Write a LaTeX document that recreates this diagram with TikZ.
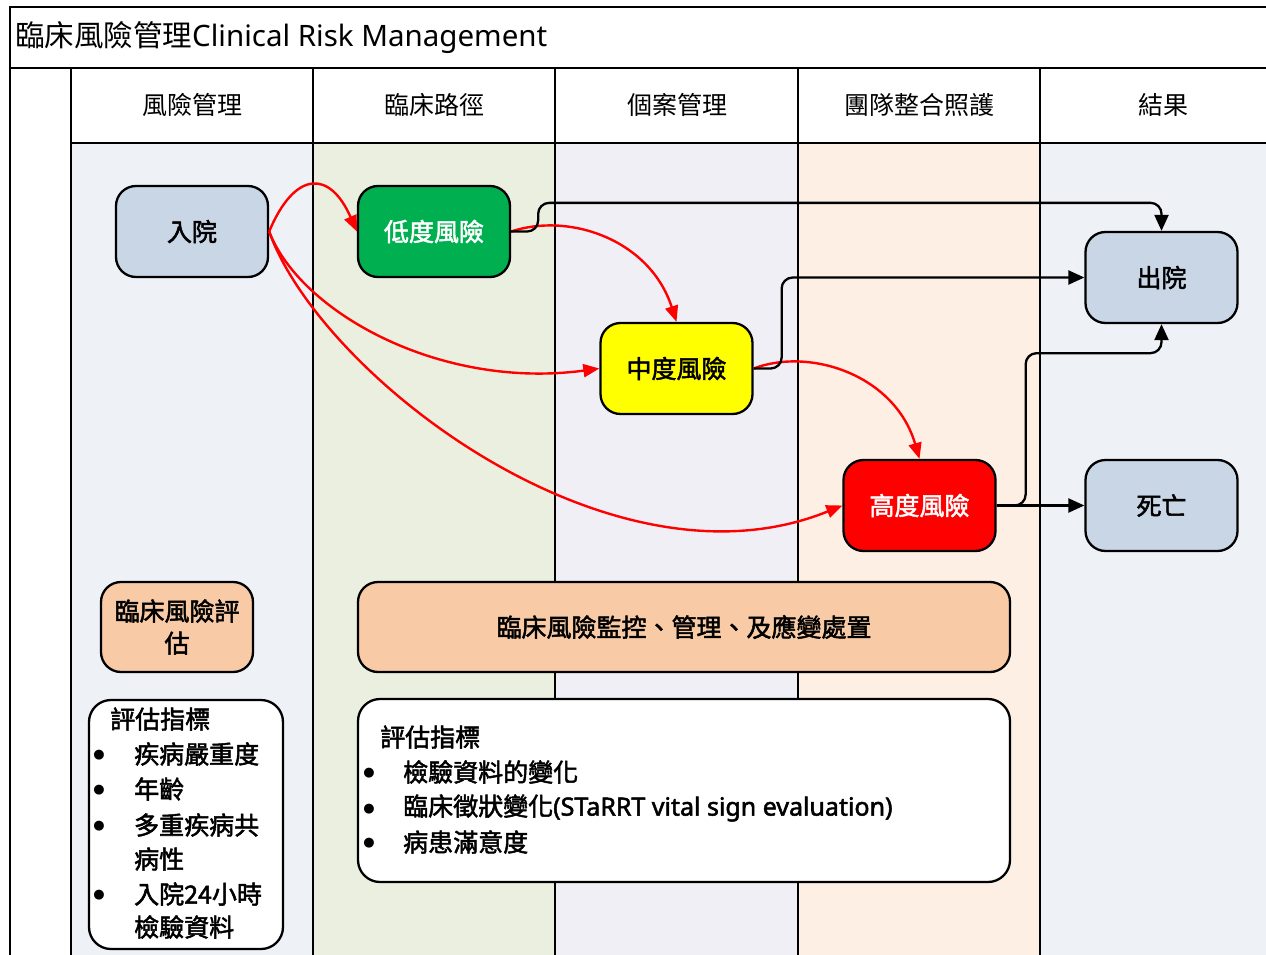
\documentclass[tikz,border=0pt]{standalone}
\usepackage{fontspec}
\setmainfont{Noto Sans CJK TC}
\newfontfamily\latinfont{Noto Sans}
\newfontfamily\bodyfont[FakeBold=2]{Noto Sans CJK TC}
\newfontfamily\bodylatin[FakeBold=2]{Noto Sans}
\newfontfamily\dotfont{DejaVu Sans}
\usetikzlibrary{arrows.meta,calc}

\definecolor{laneblue}{HTML}{EEF1F6}
\definecolor{lanegreen}{HTML}{EBEFDF}
\definecolor{lanelilac}{HTML}{F0EFF5}
\definecolor{lanepeach}{HTML}{FDEFE4}
\definecolor{stageblue}{HTML}{C9D6E6}
\definecolor{stagegreen}{HTML}{00B050}
\definecolor{stagepeach}{HTML}{F8CBA6}
\definecolor{stageyellow}{HTML}{FFFF00}

\tikzset{
  frame/.style={line width=2pt, black},
  hdr/.style={font=\fontsize{25}{30}\selectfont, inner sep=0pt},
  stagebox/.style={draw, line width=2.3pt, rounded corners=20pt,
    minimum width=152pt, minimum height=91pt, inner sep=0pt,
    font=\bodyfont\fontsize{25}{32}\selectfont},
  panel/.style={draw, line width=2.3pt, rounded corners=22pt, fill=white, inner sep=0pt},
  listline/.style={anchor=west, inner sep=0pt, font=\bodyfont\fontsize{25}{30}\selectfont},
  bulletdot/.style={inner sep=0pt, font=\dotfont\fontsize{13}{13}\selectfont},
  redarrow/.style={draw=red, line width=2.4pt, -{Triangle[length=16pt,width=13pt]}},
  blackarrow/.style={draw=black, line width=2.3pt, rounded corners=11pt,
    -{Triangle[length=16pt,width=14pt]}},
}

\begin{document}
\begin{tikzpicture}[x=1pt, y=-1pt]
\useasboundingbox (0,0) rectangle (1266,955);

% swimlane backgrounds
\fill[white] (0,0) rectangle (1266,955);
\fill[laneblue]  (71,143)   rectangle (313,960);
\fill[lanegreen] (313,143)  rectangle (555,960);
\fill[lanelilac] (555,143)  rectangle (798,960);
\fill[lanepeach] (798,143)  rectangle (1040,960);
\fill[laneblue]  (1040,143) rectangle (1270,960);

% frame and lane dividers
\draw[frame] (10,960) -- (10,7) -- (1270,7);
\draw[frame] (10,68) -- (1270,68);
\draw[frame] (71,143) -- (1270,143);
\foreach \x in {71,313,555,798,1040}
  \draw[frame] (\x,68) -- (\x,960);

% title and lane headers
\node[anchor=west, inner sep=0pt, font=\fontsize{29.5}{32}\selectfont] (title) at (15,38)
  {臨床風險管理{\latinfont Clinical Risk Management}};
\node[hdr] (h1) at (192,105)  {風險管理};
\node[hdr] (h2) at (434,105)  {臨床路徑};
\node[hdr] (h3) at (677,105)  {個案管理};
\node[hdr] (h4) at (919,105)  {團隊整合照護};
\node[hdr] (h5) at (1163,105) {結果};

% stages
\node[stagebox, fill=stageblue] (adm) at (192,231.5) {入院};
\node[stagebox, fill=stagegreen, text=white] (low) at (434,231.5) {低度風險};
\node[stagebox, fill=stageyellow] (mid) at (676.5,368.5) {中度風險};
\node[stagebox, fill=red, text=white] (high) at (919.5,505.5) {高度風險};
\node[stagebox, fill=stageblue] (out) at (1161.5,277.5) {出院};
\node[stagebox, fill=stageblue] (death) at (1161.5,505.5) {死亡};

\node[stagebox, fill=stagepeach, minimum height=90pt, align=center] (assess) at (177,627)
  {臨床風險評\\估};
\node[stagebox, fill=stagepeach, minimum width=652pt, minimum height=90pt] (monitor) at (684,627)
  {臨床風險監控、管理、及應變處置};

% indicator panels
\node[panel, minimum width=194pt, minimum height=249pt] (crit1) at (186,824.5) {};
\node[panel, minimum width=652pt, minimum height=183pt] (crit2) at (684,790.5) {};

\node[listline] (c1t) at (110,719) {評估指標};
\node[bulletdot] (c1b1) at (99,755) {●};
\node[listline] (c1a) at (134,754) {疾病嚴重度};
\node[bulletdot] (c1b2) at (99,790) {●};
\node[listline] (c1b) at (134,789) {年齡};
\node[bulletdot] (c1b3) at (99,826) {●};
\node[listline] (c1c) at (134,825) {多重疾病共};
\node[listline] (c1d) at (134,859) {病性};
\node[bulletdot] (c1b4) at (99,895) {●};
\node[listline] (c1e) at (134,894) {入院24小時};
\node[listline] (c1f) at (134,927) {檢驗資料};

\node[listline] (c2t) at (380,737) {評估指標};
\node[bulletdot] (c2b1) at (369,773) {●};
\node[listline] (c2a) at (403,772) {檢驗資料的變化};
\node[bulletdot] (c2b2) at (369,809) {●};
\node[listline] (c2b) at (403,808) {臨床徵狀變化{\bodylatin (STaRRT vital sign evaluation)}};
\node[bulletdot] (c2b3) at (369,843) {●};
\node[listline] (c2c) at (403,842) {病患滿意度};

% risk escalation paths
\draw[redarrow] (adm.east) .. controls (295,170) and (330,170) .. (low.west);
\draw[redarrow] (adm.east) .. controls (300,312) and (440,390) .. (mid.west);
\draw[redarrow] (adm.east) .. controls (320,375) and (610,600) .. (high.west);
\draw[redarrow] (low.east) .. controls (570,212) and (650,240) .. (mid.north);
\draw[redarrow] (mid.east) .. controls (810,347) and (895,375) .. (high.north);

% outcomes
\draw[blackarrow] (low.east) -- ++(27,0) |- ($(out.north)+(0,-28)$) -- (out.north);
\draw[blackarrow] (mid.east) -- ++(28,0) |- (out.west);
\draw[blackarrow] (high.east) -- ++(29,0) |- ($(out.south)+(0,29)$) -- (out.south);
\draw[blackarrow] (high.east) -- (death.west);
\end{tikzpicture}
\end{document}
